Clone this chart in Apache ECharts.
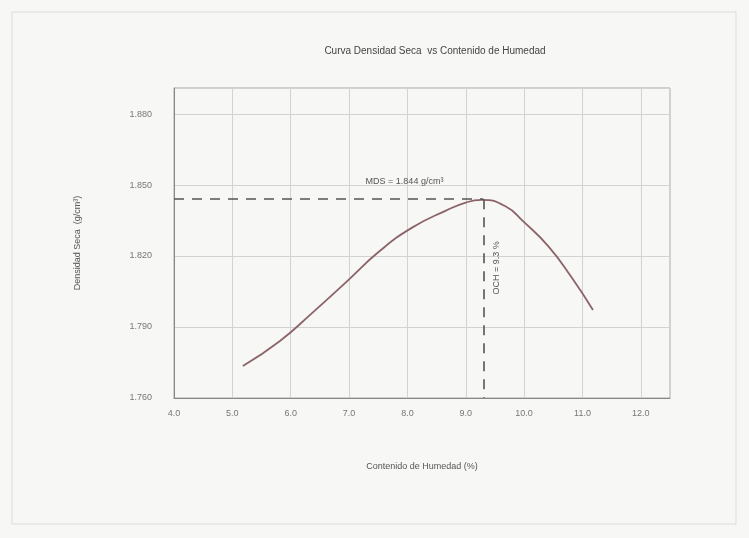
<!DOCTYPE html>
<html>
<head>
<meta charset="utf-8">
<script src="https://cdn.jsdelivr.net/npm/echarts@6/dist/echarts.min.js"></script>
<style>
html,body{margin:0;padding:0;background:#f7f7f5;}
#c{width:749px;height:538px;}
</style>
</head>
<body>
<div id="c"></div>
<script>
// Data
const humedad = [5.18, 5.81, 6.37, 6.95, 7.52, 8.08, 8.66, 9.00, 9.27, 9.68, 9.99, 10.42, 10.81, 11.18];
const densidad = [1.7735, 1.7840, 1.7960, 1.8090, 1.8220, 1.8320, 1.8392, 1.8426, 1.8437, 1.8410, 1.8345, 1.8240, 1.8111, 1.7972];
const xTicks = [4, 5, 6, 7, 8, 9, 10, 11, 12];
const yTicks = [1.760, 1.790, 1.820, 1.850, 1.880];
const MDS = 1.844;
const OCH = 9.3;
const mdsText = 'MDS = 1.844 g/cm³';
const ochText = 'OCH = 9.3 %';
const mdsLabelAt = [7.95, 1.8515];
const ochLabelAt = [9.52, 1.815];

const chart = echarts.init(document.getElementById('c'));
const font = 'Liberation Sans, Arial, sans-serif';
const lbl = {show: true, fontSize: 9, color: '#555', fontFamily: font, position: 'inside'};
chart.setOption({
  backgroundColor: '#f7f7f5',
  animation: false,
  title: {
    text: 'Curva Densidad Seca  vs Contenido de Humedad',
    left: 430, top: 41, textAlign: 'center',
    textStyle: {fontSize: 10, fontWeight: 'normal', color: '#444', fontFamily: font}
  },
  graphic: [{
    type: 'rect', shape: {x: 12, y: 12, width: 724, height: 512},
    style: {fill: 'none', stroke: '#dddddd', lineWidth: 1}, silent: true
  }],
  grid: {left: 174, right: 79, top: 88, bottom: 140, show: true, borderColor: '#a8a8a8', borderWidth: 1},
  xAxis: {
    type: 'value', min: 4, max: 12.5, interval: 1,
    name: 'Contenido de Humedad (%)', nameLocation: 'middle', nameGap: 64,
    nameTextStyle: {fontSize: 9, color: '#555', fontFamily: font},
    axisLine: {lineStyle: {color: '#888', width: 1}},
    axisTick: {show: false},
    axisLabel: {fontSize: 9, color: '#777', fontFamily: font, margin: 11,
      formatter: v => xTicks.includes(v) ? v.toFixed(1) : ''},
    splitLine: {show: true, lineStyle: {color: '#d2d2d2', width: 1}}
  },
  yAxis: {
    type: 'value', min: 1.76, max: 1.891, interval: 0.03,
    name: 'Densidad Seca  (g/cm³)', nameLocation: 'middle', nameGap: 92, nameRotate: 90,
    nameTextStyle: {fontSize: 9, color: '#555', fontFamily: font},
    axisLine: {show: true, lineStyle: {color: '#888', width: 1}},
    axisTick: {show: false},
    axisLabel: {fontSize: 9, color: '#777', fontFamily: font, margin: 22,
      formatter: v => yTicks.some(t => Math.abs(t - v) < 1e-6) ? v.toFixed(3) : ''},
    splitLine: {show: true, lineStyle: {color: '#d2d2d2', width: 1}}
  },
  series: [{
    type: 'line', smooth: 0.5, symbol: 'none',
    data: humedad.map((x, i) => [x, densidad[i]]),
    lineStyle: {color: '#8c6468', width: 1.8},
    markLine: {
      silent: true, symbol: 'none',
      lineStyle: {color: '#555', type: [10, 8], width: 1.6},
      label: {show: false},
      data: [
        [{coord: [4, MDS]}, {coord: [OCH, MDS]}],
        [{coord: [OCH, MDS]}, {coord: [OCH, 1.76]}]
      ]
    },
    markPoint: {
      silent: true, symbol: 'circle', symbolSize: 1,
      itemStyle: {color: 'rgba(0,0,0,0)'},
      data: [
        {coord: mdsLabelAt, label: Object.assign({}, lbl, {formatter: mdsText})},
        {coord: ochLabelAt, label: Object.assign({}, lbl, {formatter: ochText, rotate: 90})}
      ]
    }
  }]
});
</script>
</body>
</html>
